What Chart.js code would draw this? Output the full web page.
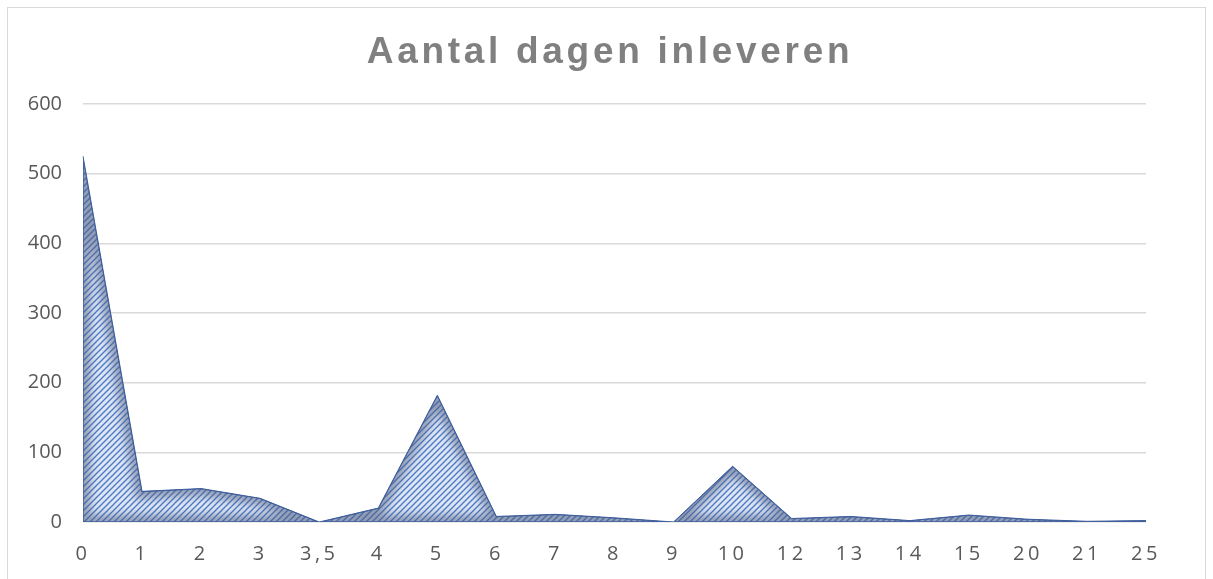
<!DOCTYPE html>
<html>
<head>
<meta charset="utf-8">
<script src="https://cdn.jsdelivr.net/npm/chart.js@4.4.0/dist/chart.umd.min.js"></script>
<style>
  html, body { margin: 0; padding: 0; background: #ffffff; overflow: hidden; }
  #frame { position: absolute; left: 7px; top: 7px; width: 1197px; height: 640px; border: 1px solid #d9d9d9; }
  #c { position: absolute; left: 0; top: 0; }
</style>
</head>
<body>
<div id="frame"></div>
<canvas id="c" width="1213" height="579" style="width:1213px;height:579px"></canvas>
<script>
// ---- data ----
const categories = ['0','1','2','3','3,5','4','5','6','7','8','9','10','12','13','14','15','20','21','25'];
const values     = [525, 44, 48, 34, 0, 20, 182, 8, 11, 6, 0, 80, 5, 8, 2, 10, 4, 1, 2];
const yMin = 0, yMax = 600, yStep = 100;
const titleText = 'Aantal dagen inleveren';

// ---- hatch pattern ----
function makePattern() {
  const s = 6;
  const p = document.createElement('canvas');
  p.width = s; p.height = s;
  const g = p.getContext('2d');
  g.fillStyle = '#dde6f5';
  g.fillRect(0, 0, s, s);
  g.strokeStyle = '#4a78c6';
  g.lineWidth = 1.3;
  g.beginPath();
  g.moveTo(-1, s + 1); g.lineTo(s + 1, -1);
  g.moveTo(-1, 1); g.lineTo(1, -1);
  g.moveTo(s - 1, s + 1); g.lineTo(s + 1, s - 1);
  g.stroke();
  return document.getElementById('c').getContext('2d').createPattern(p, 'repeat');
}

const spacingPlugin = {
  id: 'spacing',
  beforeDraw(chart) {
    if (chart.$patched) return;
    chart.$patched = true;
    const xs = chart.scales.x;
    const origX = xs.drawLabels;
    xs.drawLabels = function (area) {
      const ctx = this.ctx; ctx.save(); ctx.letterSpacing = '3.5px';
      origX.call(this, area); ctx.restore();
    };
    const tb = chart.titleBlock;
    if (tb) {
      const origT = tb.draw;
      tb.draw = function () {
        const ctx = this.ctx; ctx.save(); ctx.letterSpacing = '3.7px';
        ctx.translate(37, 0);
        origT.call(this); ctx.restore();
      };
    }
  }
};

const innerShade = {
  id: 'innerShade',
  afterDatasetDraw(chart, args) {
    const meta = args.meta;
    const pts = meta.data;
    if (!pts.length) return;
    const ctx = chart.ctx;
    const base = chart.scales.y.getPixelForValue(0);
    ctx.save();
    ctx.beginPath();
    ctx.moveTo(pts[0].x, base);
    pts.forEach(p => ctx.lineTo(p.x, p.y));
    ctx.lineTo(pts[pts.length - 1].x, base);
    ctx.closePath();
    ctx.clip();
    ctx.filter = 'blur(4px)';
    ctx.lineWidth = 14;
    ctx.strokeStyle = 'rgba(80, 95, 130, 0.55)';
    ctx.stroke();
    ctx.filter = 'none';
    ctx.lineWidth = 1.5;
    ctx.strokeStyle = '#3f5f9f';
    ctx.stroke();
    ctx.restore();
  }
};

const ctx = document.getElementById('c').getContext('2d');
new Chart(ctx, {
  type: 'line',
  data: {
    labels: categories,
    datasets: [{
      data: values,
      fill: 'origin',
      backgroundColor: makePattern(),
      borderColor: '#3f5f9f',
      borderWidth: 1,
      pointRadius: 0,
      tension: 0
    }]
  },
  options: {
    responsive: false,
    animation: false,
    devicePixelRatio: 1,
    layout: { padding: { left: 0, right: 67, top: 0, bottom: 0 } },
    plugins: {
      legend: { display: false },
      tooltip: { enabled: false },
      title: {
        display: true,
        text: titleText,
        color: '#808080',
        font: { family: '"Liberation Sans", Arial, sans-serif', size: 37, weight: 'bold', lineHeight: 1.2 },
        padding: { top: 31, bottom: 28.6 }
      }
    },
    scales: {
      x: {
        offset: false,
        grid: { display: false, drawTicks: false },
        border: { display: false },
        ticks: {
          color: '#595959',
          font: { family: '"Open Sans", sans-serif', size: 20 },
          padding: 20,
          autoSkip: false,
          maxRotation: 0,
          minRotation: 0
        },
        afterFit(s) { s.height = 57; }
      },
      y: {
        min: yMin, max: yMax,
        grid: { color: '#d9d9d9', lineWidth: 1.5, drawTicks: false },
        border: { display: false },
        ticks: {
          stepSize: yStep,
          color: '#595959',
          font: { family: '"Open Sans", sans-serif', size: 20 },
          padding: 21
        },
        afterFit(s) { s.width = 83; }
      }
    }
  },
  plugins: [spacingPlugin, innerShade]
});
</script>
</body>
</html>
